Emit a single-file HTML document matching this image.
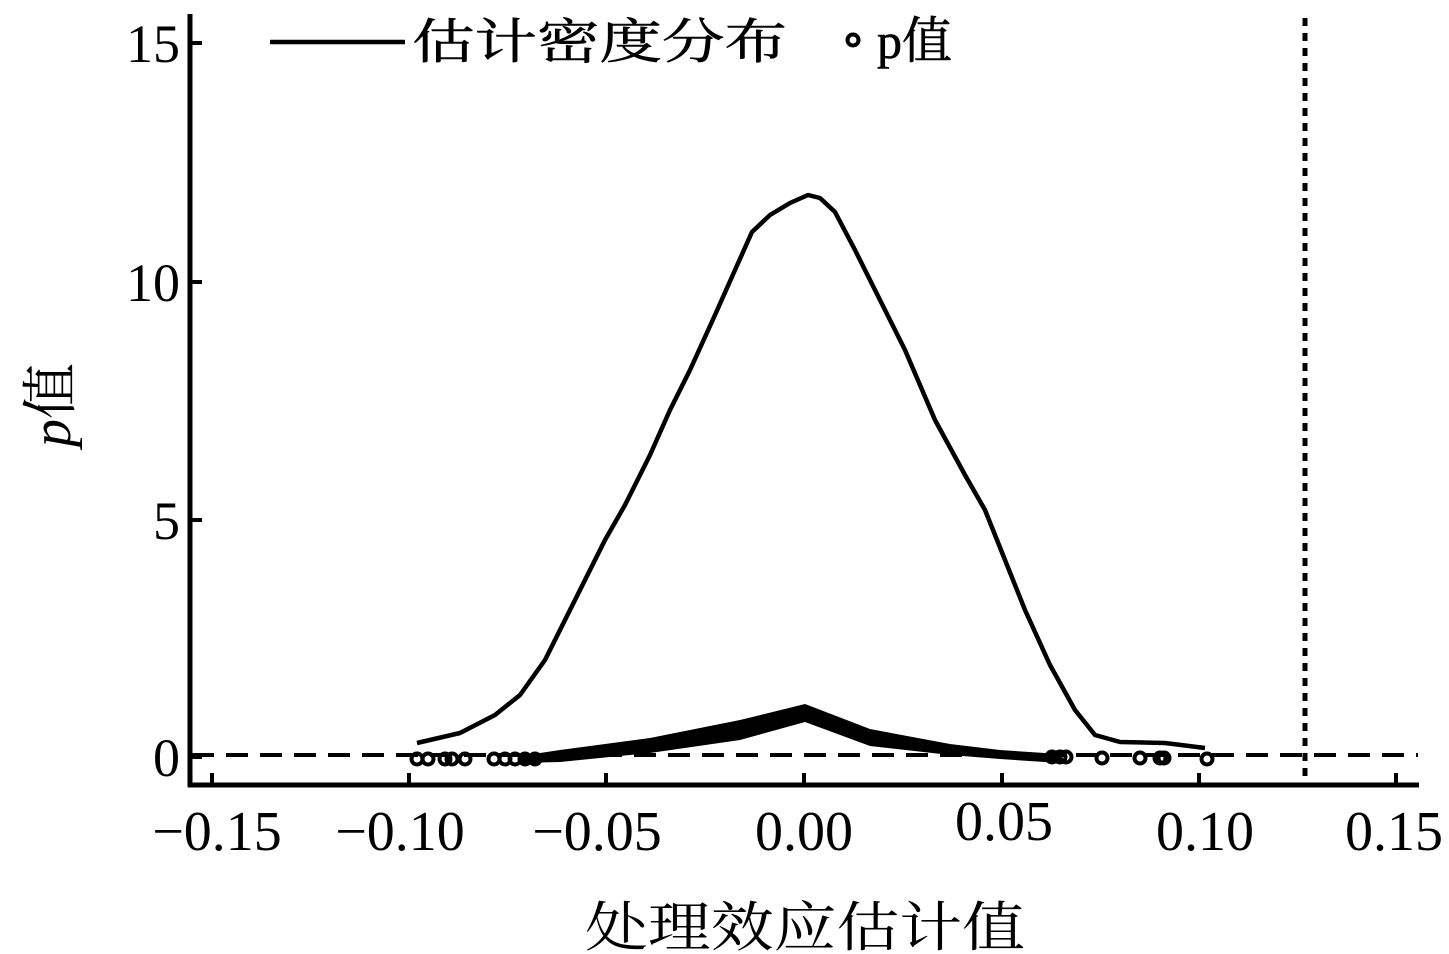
<!DOCTYPE html>
<html><head><meta charset="utf-8"><style>
html,body{margin:0;padding:0;background:#fff;}
svg{display:block;}
text{font-family:"Liberation Serif","Noto Serif CJK SC",serif;fill:#000;}
</style></head><body>
<svg width="1449" height="954" viewBox="0 0 1449 954" xmlns="http://www.w3.org/2000/svg">
<line x1="190" y1="14" x2="190" y2="787" stroke="#000" stroke-width="5"/>
<line x1="188" y1="785" x2="1419" y2="785" stroke="#000" stroke-width="5"/>
<g stroke="#000" stroke-width="4">
<line x1="190" y1="43" x2="202" y2="43"/>
<line x1="190" y1="282" x2="202" y2="282"/>
<line x1="190" y1="520" x2="202" y2="520"/>
<line x1="190" y1="757" x2="202" y2="757"/>
<line x1="212" y1="785" x2="212" y2="773"/>
<line x1="409" y1="785" x2="409" y2="773"/>
<line x1="606" y1="785" x2="606" y2="773"/>
<line x1="804" y1="785" x2="804" y2="773"/>
<line x1="1002" y1="785" x2="1002" y2="773"/>
<line x1="1199" y1="785" x2="1199" y2="773"/>
<line x1="1396" y1="785" x2="1396" y2="773"/>
</g>
<g font-size="54" text-anchor="end">
<text x="180" y="62">15</text>
<text x="180" y="301">10</text>
<text x="180" y="539">5</text>
<text x="180" y="776">0</text>
</g>
<g font-size="56" text-anchor="middle">
<text x="217" y="850">−0.15</text>
<text x="400" y="850">−0.10</text>
<text x="597" y="850">−0.05</text>
<text x="804" y="850">0.00</text>
<text x="1004" y="840">0.05</text>
<text x="1205" y="850">0.10</text>
<text x="1394" y="850">0.15</text>
</g>
<line x1="192" y1="755" x2="1418" y2="755" stroke="#000" stroke-width="4" stroke-dasharray="22,12"/>
<line x1="1305" y1="18" x2="1305" y2="785" stroke="#000" stroke-width="5" stroke-dasharray="8,7"/>
<path d="M417,743 L460,733 L495,715 L520,695 L545,660 L575,600 L605,540 L625,505 L650,455 L670,410 L690,370 L715,315 L735,270 L752,232 L770,215 L790,203 L808,195 L820,198 L835,212 L855,250 L880,300 L905,350 L935,420 L965,475 L985,510 L1005,560 L1025,610 L1050,665 L1075,710 L1095,735 L1120,742 L1165,743 L1205,748" fill="none" stroke="#000" stroke-width="4.5" stroke-linejoin="round"/>
<path d="M520,756 L560,750 L650,738 L740,720 L805,704 L870,729 L950,744 L1000,750 L1060,754 L1060,763 L1000,759 L950,755 L870,746 L805,722 L740,740 L650,753 L560,762 L520,763 Z" fill="#000"/>
<g fill="none" stroke="#000" stroke-width="4">
<circle cx="417" cy="759" r="5.5"/><circle cx="428" cy="759" r="5.5"/><circle cx="445" cy="759" r="5.5"/><circle cx="452" cy="759" r="5.5"/><circle cx="465" cy="759" r="5.5"/><circle cx="494" cy="759" r="5.5"/><circle cx="505" cy="759" r="5.5"/><circle cx="515" cy="759" r="5.5"/><circle cx="525" cy="759" r="5.5"/><circle cx="535" cy="759" r="5.5"/>
<circle cx="1052" cy="757" r="5.5"/><circle cx="1060" cy="757" r="5.5"/><circle cx="1066" cy="757" r="5.5"/><circle cx="1102" cy="758" r="5.5"/><circle cx="1140" cy="758" r="5.5"/><circle cx="1160" cy="758" r="5.5"/><circle cx="1164" cy="758" r="5.5"/><circle cx="1207" cy="759" r="5.5"/>
</g>
<line x1="270" y1="42" x2="405" y2="42" stroke="#000" stroke-width="4.5"/>
<text x="412" y="58" font-size="48" textLength="375" lengthAdjust="spacingAndGlyphs" stroke="#000" stroke-width="0.6">估计密度分布</text>
<circle cx="853" cy="40" r="5.5" fill="none" stroke="#000" stroke-width="4"/>
<text x="877" y="58" font-size="50" stroke="#000" stroke-width="0.6">p值</text>
<text transform="translate(70,405) rotate(-90)" font-size="56" text-anchor="middle"><tspan font-style="italic">p</tspan>值</text>
<text x="805" y="946" font-size="54" text-anchor="middle" textLength="440" lengthAdjust="spacingAndGlyphs">处理效应估计值</text>
</svg>
</body></html>
